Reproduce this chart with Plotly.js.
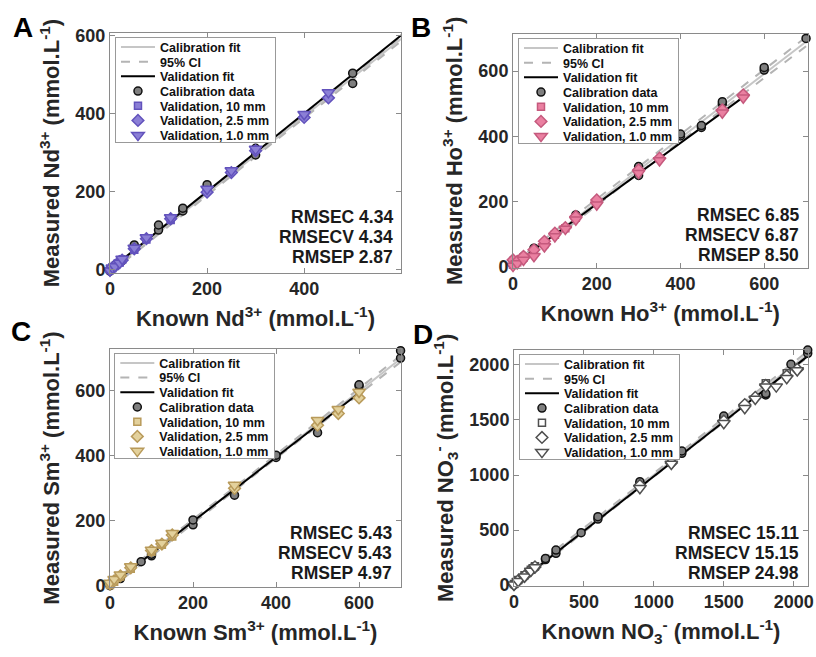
<!DOCTYPE html>
<html><head><meta charset="utf-8">
<script src="https://cdn.plot.ly/plotly-3.0.1.min.js"></script>
<style>html,body{margin:0;padding:0;background:#fff}#chart{width:816px;height:657px}</style>
</head><body><div id="chart"></div>
<script>
// ---------- Panel A : Nd3+ ----------
const ndCalX = [0, 0, 10, 10, 25, 25, 50, 50, 100, 100, 150, 150, 200, 200, 300, 300, 500, 500, 600];
const ndCalY = [-3, 2, 9, 12, 24, 27, 58, 64, 102, 115, 151, 158, 210, 218, 294, 311, 477, 503, 600];
const ndV10X = [0, 5, 10, 20, 25, 50, 75, 125];
const ndV10Y = [1, 5, 10, 19, 26, 52, 78, 128];
const ndV25X = [0, 5, 10, 20, 25, 50, 75, 125, 200, 250, 300, 400, 450];
const ndV25Y = [0, 4, 11, 21, 25, 54, 80, 131, 199, 249, 305, 390, 440];
const ndV1X = [0, 5, 10, 20, 25, 50, 75, 125, 200, 250, 300, 400, 450, 600];
const ndV1Y = [-2, 6, 9, 18, 28, 56, 83, 134, 207, 254, 309, 398, 454, 598];
const ndFitX = [0, 300, 600];
const ndCalFitY = [-3, 294, 591];
const ndCiUpY = [2, 298, 597];
const ndCiLoY = [-8, 290, 585];
const ndValFitX = [0, 600];
const ndValFitY = [1, 600];
const ndStats = ['RMSEC 4.34', 'RMSECV 4.34', 'RMSEP 2.87'];

// ---------- Panel B : Ho3+ ----------
const hoCalX = [0, 0, 0, 25, 25, 50, 50, 150, 150, 300, 300, 400, 400, 450, 450, 500, 500, 600, 600, 700];
const hoCalY = [-10, 5, 20, 25, 32, 52, 57, 154, 159, 280, 307, 401, 407, 427, 433, 499, 506, 603, 611, 700];
const hoV10X = [0, 10, 25, 50, 75, 100, 125, 150];
const hoV10Y = [6, 14, 28, 45, 70, 98, 118, 150];
const hoV25X = [0, 10, 25, 50, 75, 100, 125, 150, 200, 300, 350, 500, 550];
const hoV25Y = [21, 16, 32, 52, 78, 103, 120, 154, 205, 297, 333, 481, 527];
const hoV1X = [0, 10, 25, 50, 75, 100, 125, 150, 200, 300, 350, 500, 550];
const hoV1Y = [2, 10, 21, 32, 62, 93, 116, 144, 190, 287, 326, 472, 518];
const hoFitX = [0, 300, 700];
const hoCalFitY = [1, 296, 690];
const hoCiUpY = [11, 306, 704];
const hoCiLoY = [-11, 287, 676];
const hoValFitX = [0, 550];
const hoValFitY = [5, 520];
const hoStats = ['RMSEC 6.85', 'RMSECV 6.87', 'RMSEP 8.50'];

// ---------- Panel C : Sm3+ ----------
const smCalX = [0, 0, 25, 75, 100, 100, 200, 200, 300, 400, 400, 500, 600, 600, 700, 700];
const smCalY = [0, 4, 22, 74, 92, 97, 187, 202, 278, 394, 401, 470, 613, 617, 699, 722];
const smV10X = [0, 10, 25, 50, 100, 125, 150];
const smV10Y = [2, 12, 28, 52, 104, 126, 151];
const smV25X = [0, 10, 25, 50, 100, 125, 150, 300, 500, 550, 600];
const smV25Y = [5, 15, 30, 55, 108, 128, 156, 299, 493, 529, 577];
const smV1X = [0, 10, 25, 50, 100, 125, 150, 300, 500, 550, 600];
const smV1Y = [8, 20, 34, 59, 110, 131, 161, 309, 508, 542, 595];
const smFitX = [0, 350, 700];
const smCalFitY = [-2, 347, 697];
const smCiUpY = [6, 352, 707];
const smCiLoY = [-10, 342, 687];
const smValFitX = [0, 600];
const smValFitY = [0, 592];
const smStats = ['RMSEC 5.43', 'RMSECV 5.43', 'RMSEP 4.97'];

// ---------- Panel D : NO3- ----------
const noCalX = [0, 30, 75, 150, 225, 225, 300, 300, 480, 600, 600, 900, 900, 1200, 1200, 1500, 1500, 1800, 1800, 1980, 2100, 2100];
const noCalY = [5, 40, 85, 160, 232, 242, 288, 318, 476, 600, 621, 925, 939, 1197, 1218, 1515, 1536, 1727, 1740, 2006, 2106, 2136];
const noV10X = [0, 30, 75, 120, 150, 1800, 1950];
const noV10Y = [10, 45, 88, 140, 170, 1833, 1924];
const noV25X = [0, 30, 75, 120, 150, 900, 1125, 1500, 1650, 1725, 1800, 1950, 2025];
const noV25Y = [5, 40, 80, 135, 165, 905, 1110, 1490, 1640, 1705, 1815, 1900, 1960];
const noV1X = [0, 30, 75, 120, 150, 900, 1125, 1500, 1650, 1725, 1800, 1875, 1950, 2025];
const noV1Y = [2, 35, 75, 128, 160, 880, 1100, 1470, 1606, 1690, 1803, 1803, 1879, 1950];
const noFitX = [0, 1050, 2100];
const noCalFitY = [3, 1050, 2098];
const noCiUpY = [25, 1065, 2125];
const noCiLoY = [-20, 1035, 2070];
const noValFitX = [0, 2100];
const noValFitY = [-5, 2080];
const noStats = ['RMSEC 15.11', 'RMSECV 15.15', 'RMSEP 24.98'];

// ---------- labels ----------
const legendNames = ['Calibration fit', '95% CI', 'Validation fit', 'Calibration data',
  'Validation, 10 mm', 'Validation, 2.5 mm', 'Validation, 1.0 mm'];
const xTitles = ['Known Nd<sup>3+</sup> (mmol.L<sup>-1</sup>)', 'Known Ho<sup>3+</sup> (mmol.L<sup>-1</sup>)',
  'Known Sm<sup>3+</sup> (mmol.L<sup>-1</sup>)', 'Known NO<sub>3</sub><sup>-</sup> (mmol.L<sup>-1</sup>)'];
const yTitles = ['Measured Nd<sup>3+</sup> (mmol.L<sup>-1</sup>)', 'Measured Ho<sup>3+</sup> (mmol.L<sup>-1</sup>)',
  'Measured Sm<sup>3+</sup> (mmol.L<sup>-1</sup>)', 'Measured NO<sub>3</sub><sup>-</sup> (mmol.L<sup>-1</sup>)'];
const panelLetters = ['A', 'B', 'C', 'D'];
const xTicks = [[0, 200, 400], [0, 200, 400, 600], [0, 200, 400, 600], [0, 500, 1000, 1500, 2000]];
const yTicks = [[0, 200, 400, 600], [0, 200, 400, 600], [0, 200, 400, 600], [0, 500, 1000, 1500, 2000]];

// ---------- styling / layout ----------
const FONT = 'Liberation Sans, Arial, Helvetica, sans-serif';
const TXT = '#262626';
const fills = ['#8b7fd6', '#ea80a1', '#e3d19c', '#ffffff'];
const edges = ['#6252bc', '#c5597d', '#b89a5a', '#505050'];
const xDomains = [[0.1348, 0.4914], [0.6287, 0.9896], [0.1348, 0.4914], [0.6299, 0.9902]];
const yDomains = [[0.5849, 0.9493], [0.5925, 0.9482], [0.1070, 0.4683], [0.1085, 0.4673]];
const xRanges = [[0, 599.5], [0, 703.5], [0, 701], [0, 2102]];
const yRanges = [[-7, 605], [-3, 713.5], [-3, 726], [-6, 2136]];
const legendPos = [[0.1409, 0.9432], [0.6348, 0.9417], [0.1401, 0.4623], [0.6360, 0.4607]];
const statRight = [-6, -7, -7, -7];
const statBottom = [15.5, 12.7, 13.4, 12.7];
const letterPos = [[0.0276, 0.9581], [0.5159, 0.9581], [0.0257, 0.4954], [0.5184, 0.4916]];

const panels = [
  {calX: ndCalX, calY: ndCalY, v10X: ndV10X, v10Y: ndV10Y, v25X: ndV25X, v25Y: ndV25Y, v1X: ndV1X, v1Y: ndV1Y,
   fitX: ndFitX, calFitY: ndCalFitY, ciUpY: ndCiUpY, ciLoY: ndCiLoY, valFitX: ndValFitX, valFitY: ndValFitY, stats: ndStats},
  {calX: hoCalX, calY: hoCalY, v10X: hoV10X, v10Y: hoV10Y, v25X: hoV25X, v25Y: hoV25Y, v1X: hoV1X, v1Y: hoV1Y,
   fitX: hoFitX, calFitY: hoCalFitY, ciUpY: hoCiUpY, ciLoY: hoCiLoY, valFitX: hoValFitX, valFitY: hoValFitY, stats: hoStats},
  {calX: smCalX, calY: smCalY, v10X: smV10X, v10Y: smV10Y, v25X: smV25X, v25Y: smV25Y, v1X: smV1X, v1Y: smV1Y,
   fitX: smFitX, calFitY: smCalFitY, ciUpY: smCiUpY, ciLoY: smCiLoY, valFitX: smValFitX, valFitY: smValFitY, stats: smStats},
  {calX: noCalX, calY: noCalY, v10X: noV10X, v10Y: noV10Y, v25X: noV25X, v25Y: noV25Y, v1X: noV1X, v1Y: noV1Y,
   fitX: noFitX, calFitY: noCalFitY, ciUpY: noCiUpY, ciLoY: noCiLoY, valFitX: noValFitX, valFitY: noValFitY, stats: noStats}
];

const traces = [];
const layout = {
  width: 816, height: 657,
  margin: {l: 0, r: 0, t: 0, b: 0},
  paper_bgcolor: '#ffffff', plot_bgcolor: '#ffffff',
  font: {family: FONT, color: TXT, size: 18, weight: 700},
  annotations: [],
  showlegend: true
};

panels.forEach(function (p, i) {
  const n = i === 0 ? '' : String(i + 1);
  const xa = 'x' + n, ya = 'y' + n;
  const lg = 'legend' + n;
  const common = {xaxis: xa, yaxis: ya, legend: lg, cliponaxis: false};
  traces.push(Object.assign({type: 'scatter', mode: 'lines', x: p.fitX, y: p.calFitY, name: legendNames[0],
    line: {color: '#c6c6c6', width: 2}}, common));
  traces.push(Object.assign({type: 'scatter', mode: 'lines', x: p.fitX, y: p.ciUpY, name: legendNames[1],
    line: {color: '#b4b4b4', width: 2, dash: 'dash'}}, common));
  traces.push(Object.assign({type: 'scatter', mode: 'lines', x: p.fitX, y: p.ciLoY, name: legendNames[1], showlegend: false,
    line: {color: '#b4b4b4', width: 2, dash: 'dash'}}, common));
  traces.push(Object.assign({type: 'scatter', mode: 'lines', x: p.valFitX, y: p.valFitY, name: legendNames[2],
    line: {color: '#000000', width: 2}}, common));
  traces.push(Object.assign({type: 'scatter', mode: 'markers', x: p.calX, y: p.calY, name: legendNames[3],
    marker: {symbol: 'circle', size: 8, color: '#7f7f7f', line: {color: '#111111', width: 1.5}}}, common));
  traces.push(Object.assign({type: 'scatter', mode: 'markers', x: p.v10X, y: p.v10Y, name: legendNames[4],
    marker: {symbol: 'square', size: 7, color: fills[i], line: {color: edges[i], width: 1.5}}}, common));
  traces.push(Object.assign({type: 'scatter', mode: 'markers', x: p.v25X, y: p.v25Y, name: legendNames[5],
    marker: {symbol: 'diamond', size: 9, color: fills[i], line: {color: edges[i], width: 1.5}}}, common));
  traces.push(Object.assign({type: 'scatter', mode: 'markers', x: p.v1X, y: p.v1Y, name: legendNames[6],
    marker: {symbol: 'triangle-down', size: 11, color: fills[i], line: {color: edges[i], width: 1.5}}}, common));

  const axCommon = {
    showline: true, linecolor: '#8a8a8a', linewidth: 1, mirror: 'ticks',
    ticks: 'inside', ticklen: 5, tickcolor: '#8a8a8a', tickwidth: 1,
    showgrid: false, zeroline: false, fixedrange: true,
    tickfont: {family: FONT, size: 18, color: TXT, weight: 700}
  };
  layout['xaxis' + n] = Object.assign({}, axCommon, {
    domain: xDomains[i], range: xRanges[i], anchor: ya, tickvals: xTicks[i],
    title: {text: xTitles[i], standoff: 12, font: {family: FONT, size: 22, color: TXT, weight: 700}}
  });
  layout['yaxis' + n] = Object.assign({}, axCommon, {
    domain: yDomains[i], range: yRanges[i], anchor: xa, tickvals: yTicks[i],
    title: {text: yTitles[i], standoff: 9, font: {family: FONT, size: 22, color: TXT, weight: 700}}
  });
  layout[lg] = {
    x: legendPos[i][0], y: legendPos[i][1], xref: 'paper', yref: 'paper', xanchor: 'left', yanchor: 'top',
    bgcolor: '#ffffff', bordercolor: '#999999', borderwidth: 1, itemwidth: 34,
    font: {family: FONT, size: 12.5, color: '#111111', weight: 700}, tracegroupgap: 0
  };
  p.stats.forEach(function (s, k) {
    layout.annotations.push({
      text: s, xref: xa + ' domain', yref: ya + ' domain', x: 1, y: 0, xanchor: 'right', yanchor: 'middle',
      xshift: statRight[i], yshift: statBottom[i] + (2 - k) * 20, showarrow: false,
      font: {family: FONT, size: 17.5, color: '#1a1a1a', weight: 700}
    });
  });
  layout.annotations.push({
    text: panelLetters[i], xref: 'paper', yref: 'paper', x: letterPos[i][0], y: letterPos[i][1],
    xanchor: 'center', yanchor: 'middle', showarrow: false,
    font: {family: FONT, size: 28, color: '#000000', weight: 700}
  });
});

function compactLegends() {
  const gd = document.getElementById('chart');
  gd.querySelectorAll('g.infolayer > g').forEach(function (lgEl) {
    const cls = lgEl.getAttribute('class') || '';
    if (!/^legend\d*$/.test(cls)) return;
    const items = lgEl.querySelectorAll('g.traces');
    let first = null;
    items.forEach(function (t, k) {
      const m = /translate\(\s*([-\d.e]+)[ ,]+([-\d.e]+)\s*\)/.exec(t.getAttribute('transform') || '');
      if (!m) return;
      const x = parseFloat(m[1]), y = parseFloat(m[2]);
      if (first === null) first = y;
      t.setAttribute('transform', 'translate(' + x + ',' + (first - 6 + k * 14.7) + ')');
    });
    const bg = lgEl.querySelector('rect.bg');
    if (bg) bg.setAttribute('height', 105);
  });
}

Plotly.newPlot('chart', traces, layout, {displayModeBar: false, staticPlot: true}).then(compactLegends);
</script>
</body></html>
